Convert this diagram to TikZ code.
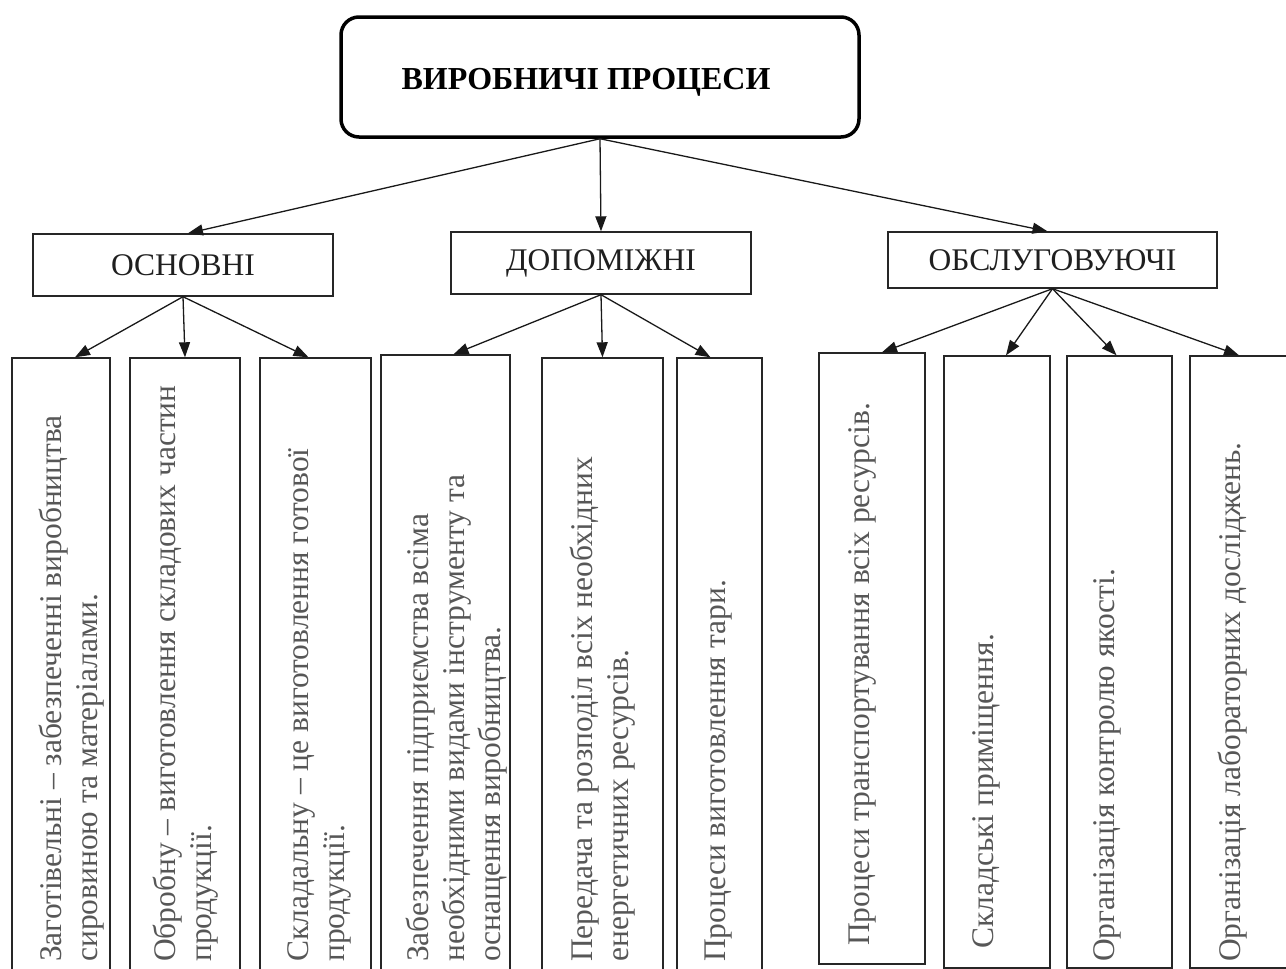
\documentclass[tikz,border=0pt]{standalone}
\usepackage{fontspec}
\setmainfont{Liberation Serif}
\usetikzlibrary{arrows.meta,calc}
\begin{document}
\begin{tikzpicture}[x=1pt,y=-1pt,
  box/.style={draw=black!85, line width=1.4pt, inner sep=0pt},
  midbox/.style={box, text=black!88, font=\fontsize{31.5}{36}\selectfont},
  arr/.style={line width=1.3pt, draw=black!90, -{Triangle[length=15pt,width=11pt]}},
  lbl/.style={rotate=90, anchor=north west, align=left, inner sep=0pt, text=black!66,
    font=\fontsize{31.5}{36}\selectfont},
]
\useasboundingbox (0,0) rectangle (1286,969);
\clip (0,0) rectangle (1286,969);

% top
\node[draw=black, line width=3.5pt, rounded corners=18pt, minimum width=518pt,
  minimum height=120pt, inner sep=0pt, text height=25.6pt, text depth=0pt,
  font=\bfseries\fontsize{32}{38}\selectfont]
  (top) at (600,77) {ВИРОБНИЧІ ПРОЦЕСИ\hspace*{28pt}};

% middle
\node[midbox, minimum width=300pt, minimum height=62pt] (osn) at (183,265) {ОСНОВНІ};
\node[midbox, minimum width=300pt, minimum height=62pt] (dop) at (601,263) {ДОПОМІЖНІ};
\node[midbox, minimum width=329pt, minimum height=56pt] (obs) at (1052.5,260) {ОБСЛУГОВУЮЧІ};

% bottom boxes
\node[box, minimum width=98pt,  minimum height=617pt] (b1) at (61,666.5) {};
\node[box, minimum width=110pt, minimum height=617pt] (b2) at (185,666.5) {};
\node[box, minimum width=111pt, minimum height=617pt] (b3) at (315.5,666.5) {};
\node[box, minimum width=129pt, minimum height=620pt] (b4) at (445.5,665) {};
\node[box, minimum width=121pt, minimum height=617pt] (b5) at (602.5,666.5) {};
\node[box, minimum width=85pt,  minimum height=617pt] (b6) at (719.5,666.5) {};
\node[box, minimum width=106pt, minimum height=611pt] (b7) at (872,658.5) {};
\node[box, minimum width=106pt, minimum height=612pt] (b8) at (997,662) {};
\node[box, minimum width=105pt, minimum height=612pt] (b9) at (1119.5,662) {};
\node[box, minimum width=106pt, minimum height=612pt] (b10) at (1243,662) {};

% texts
\node[lbl] (t1) at (39,962) {Заготівельні – забезпеченні виробництва\\сировиною та матеріалами.};
\node[lbl] (t2) at (153,962) {Обробну – виготовлення складових частин\\продукції.};
\node[lbl] (t3) at (287,962) {Складальну – це виготовлення готової\\продукції.};
\node[lbl] (t4) at (406,962) {Забезпечення підприємства всіма\\необхідними видами інструменту та\\оснащення виробництва.};
\node[lbl] (t5) at (570,962) {Передача та розподіл всіх необхідних\\енергетичних ресурсів.};
\node[lbl] (t6) at (705,962) {Процеси виготовлення тари.};
\node[lbl] (t7) at (848,946) {Процеси транспортування всіх ресурсів.};
\node[lbl] (t8) at (972,949) {Складські приміщення.};
\node[lbl] (t9) at (1093,962) {Організація контролю якості.};
\node[lbl] (t10) at (1218,962) {Організація лабораторних досліджень.};

% arrows
\draw[arr] (top.south) -- ($(osn.north)+(5,0)$);
\draw[arr] (top.south) -- (dop.north);
\draw[arr] (top.south) -- ($(obs.north)+(-5,0)$);

\draw[arr] (osn.south) -- ($(b1.north)+(14,0)$);
\draw[arr] (osn.south) -- (b2.north);
\draw[arr] (osn.south) -- ($(b3.north)+(-7,0)$);

\draw[arr] (dop.south) -- ($(b4.north)+(8,0)$);
\draw[arr] (dop.south) -- (b5.north);
\draw[arr] (dop.south) -- ($(b6.north)+(-9,0)$);

\draw[arr] (obs.south) -- ($(b7.north)+(10,0)$);
\draw[arr] (obs.south) -- ($(b8.north)+(9,0)$);
\draw[arr] (obs.south) -- ($(b9.north)+(-3,0)$);
\draw[arr] (obs.south) -- ($(b10.north)+(-4,0)$);
\end{tikzpicture}
\end{document}
